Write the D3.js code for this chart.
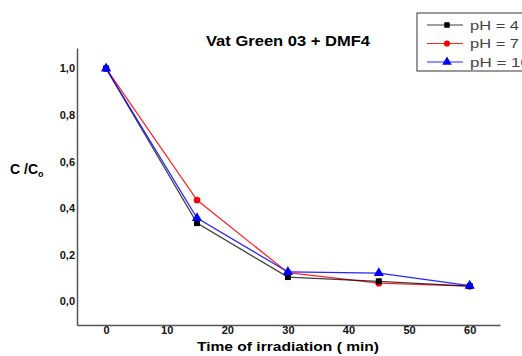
<!DOCTYPE html>
<html><head><meta charset="utf-8">
<script src="https://cdn.jsdelivr.net/npm/d3@7"></script>
<style>body{margin:0;background:#fff;overflow:hidden}svg{display:block}</style>
</head><body>
<script>
const times = [0, 15, 30, 45, 60];
const pH4 = [1.0, 0.335, 0.103, 0.085, 0.064];
const pH7 = [1.0, 0.434, 0.122, 0.077, 0.064];
const pH10 = [1.0, 0.357, 0.125, 0.12, 0.066];
const seriesNames = ["pH = 4", "pH = 7", "pH = 10"];
const yTicks = [0, 0.2, 0.4, 0.6, 0.8, 1.0];
const xTicks = [0, 10, 20, 30, 40, 50, 60];
const colors = ["#000000", "#ff0000", "#0000ff"];
const shapes = [d3.symbolSquare, d3.symbolCircle, d3.symbolTriangle];

const W = 522, H = 356;
const FONT = "Liberation Sans, Arial, sans-serif";
const svg = d3.select("body").append("svg").attr("width", W).attr("height", H);
const x = d3.scaleLinear().domain([-4.8, 65]).range([77, 500]);
const y = d3.scaleLinear().domain([-0.103, 1.088]).range([325, 48]);

// axes
const fmt = d => d3.format(".1f")(d).replace(".", ",");
const yAxis = svg.append("g").attr("transform", "translate(77,0)")
  .call(d3.axisLeft(y).tickValues(yTicks).tickSize(0).tickPadding(2).tickFormat(fmt));
const xAxis = svg.append("g").attr("transform", "translate(0,325)")
  .call(d3.axisBottom(x).tickValues(xTicks).tickSize(0).tickPadding(1).tickFormat(d3.format("d")));
[yAxis, xAxis].forEach(g => {
  g.select(".domain").attr("stroke", "#555").attr("stroke-width", 1.5);
  g.selectAll("text").attr("font-family", FONT)
    .attr("font-size", 11).attr("font-weight", "bold").attr("fill", "#111");
});

const data = [pH4, pH7, pH10];
const line = d3.line().x((d, i) => x(times[i])).y(d => y(d));
const order = [1, 0, 2];
order.forEach(k => {
  svg.append("path").datum(data[k]).attr("d", line).attr("fill", "none")
    .attr("stroke", colors[k]).attr("stroke-width", 1.3).attr("opacity", k === 0 ? 0.75 : 0.85);
});
order.forEach(k => {
  svg.append("g").selectAll("path").data(data[k]).join("path")
    .attr("transform", (d, i) => `translate(${x(times[i])},${y(d)})`)
    .attr("d", d3.symbol().type(shapes[k]).size(k === 2 ? 45 : 35))
    .attr("fill", colors[k]);
});

// title
svg.append("text").attr("x", 288).attr("y", 46).attr("text-anchor", "middle")
  .attr("font-family", FONT).attr("font-size", 14)
  .attr("font-weight", "bold").attr("textLength", 164).attr("lengthAdjust", "spacingAndGlyphs")
  .text("Vat Green 03 + DMF4");

// axis labels
svg.append("text").attr("x", 288).attr("y", 351).attr("text-anchor", "middle")
  .attr("font-family", FONT).attr("font-size", 13)
  .attr("font-weight", "bold").attr("textLength", 182).attr("lengthAdjust", "spacingAndGlyphs")
  .text("Time of irradiation ( min)");
const yl = svg.append("text").attr("x", 10).attr("y", 174)
  .attr("font-family", FONT).attr("font-size", 14)
  .attr("font-weight", "bold");
yl.append("tspan").text("C /C");
yl.append("tspan").attr("font-size", 9).attr("dy", 3).text("o");

// legend
const lg = svg.append("g");
lg.append("rect").attr("x", 417).attr("y", 13).attr("width", 140).attr("height", 58)
  .attr("fill", "#fff").attr("stroke", "#555").attr("stroke-width", 1.2);
seriesNames.forEach((n, k) => {
  const yy = 25 + k * 18.5;
  lg.append("line").attr("x1", 427).attr("x2", 463).attr("y1", yy).attr("y2", yy)
    .attr("stroke", colors[k]).attr("stroke-width", 1.2).attr("opacity", k === 0 ? 0.75 : 0.85);
  lg.append("path").attr("transform", `translate(447,${yy})`)
    .attr("d", d3.symbol().type(shapes[k]).size(k === 2 ? 40 : 30)).attr("fill", colors[k]);
  lg.append("text").attr("x", 470).attr("y", yy + 4.5)
    .attr("font-family", FONT).attr("font-size", 13)
    .attr("textLength", n.length === 6 ? 49 : 60).attr("lengthAdjust", "spacingAndGlyphs")
    .attr("fill", "#444").text(n);
});
</script>
</body></html>
